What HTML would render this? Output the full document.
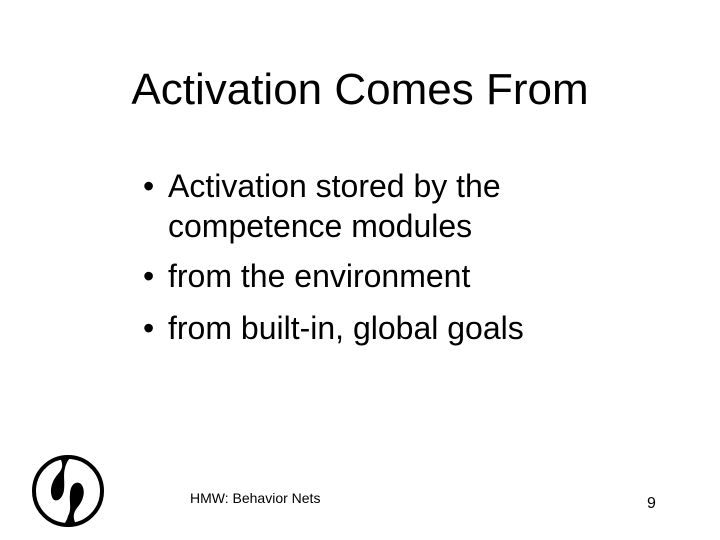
<!DOCTYPE html>
<html><head><meta charset="utf-8"><style>
body{margin:0;width:720px;height:540px;background:#fff;position:relative;overflow:hidden;font-family:"Liberation Sans",Arial,sans-serif;color:#000}
.t{position:absolute;white-space:nowrap}
</style></head><body>
<div class="t" style="left:0;width:720px;text-align:center;top:65px;font-size:44px">Activation Comes From</div>
<div class="t" style="left:143px;top:166px;font-size:32px;line-height:40px">•<span style="position:absolute;left:25px">Activation stored by the</span></div>
<div class="t" style="left:168px;top:206px;font-size:32px;line-height:40px">competence modules</div>
<div class="t" style="left:143px;top:256px;font-size:32px;line-height:40px">•<span style="position:absolute;left:25px">from the environment</span></div>
<div class="t" style="left:143px;top:308px;font-size:32px;line-height:40px">•<span style="position:absolute;left:25px">from built-in, global goals</span></div>
<div class="t" style="left:190px;top:490px;font-size:14px">HMW: Behavior Nets</div>
<div class="t" style="left:647px;top:495px;font-size:16px">9</div>
<svg style="position:absolute;left:20px;top:440px" width="100" height="100">
<circle cx="48" cy="51" r="34" fill="none" stroke="#000" stroke-width="4"/>
<path d="M40 18 C44 25 42 30 38 34 C31 42 29 52 33 59 C37 63 43 58 44 50 C45 42 43 35 45 28 C46 24 48 20 50 18 Z" fill="#000"/>
<path d="M56 84 C52 77 54 72 57 68 C64 60 66 50 61 44 C56 40 50 45 50 54 C49 62 52 69 48 76 C47 80 45 83 44 84 Z" fill="#000"/>
</svg>
</body></html>
